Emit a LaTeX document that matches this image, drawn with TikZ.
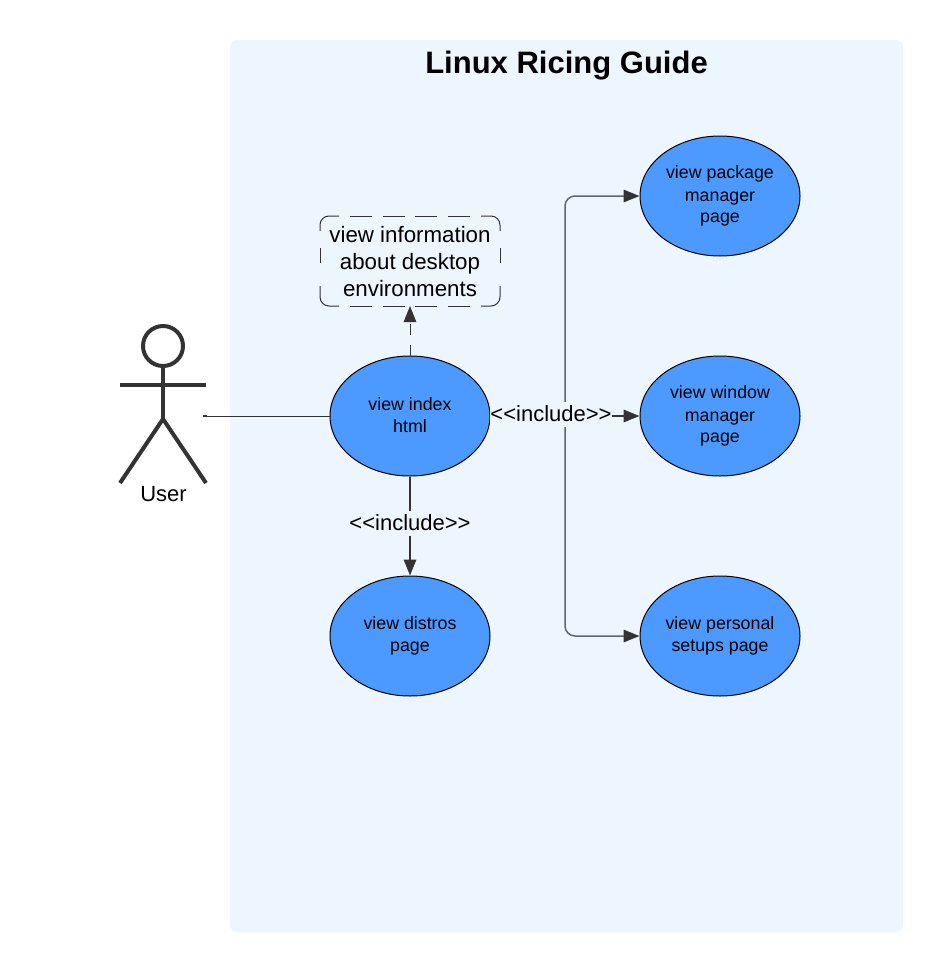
\documentclass[tikz,border=0pt]{standalone}
\usepackage{fontspec}
\setmainfont{Liberation Sans}
\usetikzlibrary{arrows.meta,shapes.geometric}
\definecolor{panelfill}{HTML}{EDF5FF}
\definecolor{usefill}{HTML}{4C9AFF}
\definecolor{inkdark}{HTML}{333333}
\definecolor{inkgrey}{HTML}{5E6670}
\tikzset{
  usecase/.style={ellipse,draw=black,line width=1pt,fill=usefill,minimum width=160pt,minimum height=120pt,inner sep=0pt,align=center,font=\fontsize{17.8}{21.6}\selectfont},
  notebox/.style={rectangle,minimum width=180pt,minimum height=90pt,inner sep=0pt,align=center,font=\fontsize{22.3}{27}\selectfont},
  noteline/.style={draw=inkdark,line width=1pt,rounded corners=9pt},
  conn/.style={draw=inkdark,line width=1.6pt,-{Triangle[length=16pt,width=12.5pt]}},
  trunk/.style={draw=inkgrey,line width=1.5pt,rounded corners=10pt},
  stereo/.style={fill=panelfill,inner sep=0pt,minimum height=25pt,font=\fontsize{22}{24}\selectfont},
  stick/.style={draw=inkdark,line width=4pt},
}
\begin{document}
\begin{tikzpicture}[x=1pt,y=-1pt]
\useasboundingbox (0,0) rectangle (943,972);
\fill[white] (0,0) rectangle (943,972);
\fill[panelfill,rounded corners=7pt] (230,40) rectangle (903,932);
\node[font=\fontsize{31}{36}\selectfont\bfseries] (title) at (566.5,66) {Linux Ricing Guide};
% actor
\draw[stick] (163,346) circle (20);
\draw[stick] (163,366) -- (163,419);
\draw[stick] (120,385) -- (206,385);
\draw[stick] (120,483) -- (163,419) -- (206,483);
\node[font=\fontsize{22}{25}\selectfont] (userlabel) at (163.5,494.5) {User};
\coordinate (actorend) at (203,416);
% use cases
\node[usecase] (index) at (410,416) {\raisebox{1.5pt}{view index}\\\raisebox{1.5pt}{html}};
\node[usecase] (distros) at (410,636) {view distros\\page};
\node[usecase] (package) at (720,196) {\raisebox{1pt}{view package}\\manager\\page};
\node[usecase] (window) at (720,416) {\raisebox{1pt}{view window}\\manager\\page};
\node[usecase] (setups) at (720,636) {view personal\\setups page};
\node[notebox] (note) at (410,262) {view information\\about desktop\\environments};
% dashed outline of the note
\draw[noteline] (339,216) -- (320,216) -- (320,231);
\draw[noteline] (481,216) -- (500,216) -- (500,231);
\draw[noteline] (320,286) -- (320,306) -- (339,306);
\draw[noteline] (500,286) -- (500,306) -- (481,306);
\foreach \xa/\xb in {350/372,383/405,415/437,448/470}{
  \draw[noteline] (\xa,216) -- (\xb,216);
  \draw[noteline] (\xa,306) -- (\xb,306);
}
\draw[noteline] (320,248) -- (320,263);
\draw[noteline] (500,248) -- (500,263);
% connectors
\draw[draw=inkdark,line width=0.9pt] (actorend) -- (index.west);
\draw[draw=inkdark,line width=1.8pt] (actorend) -- ++(4,0);
\draw[draw=inkdark,line width=1pt,dash pattern=on 11pt off 10pt,-{Triangle[length=16pt,width=12.5pt]}] (index.north) -- (410,306);
\draw[trunk] (index.east) -- (565,416) |- ([xshift=-14pt]package.west);
\draw[trunk] (index.east) -- (565,416) |- ([xshift=-14pt]setups.west);
\draw[conn] ([xshift=-14.5pt]package.west) -- (package.west);
\draw[conn] ([xshift=-14.5pt]setups.west) -- (setups.west);
\draw[conn] (index.east) -- (window.west);
\node[stereo] (inc1) at (551,414) {<{}<include>{}>};
\draw[conn] (index.south) -- (distros.north) node[midway,stereo,yshift=3pt] (inc2) {<{}<include>{}>};
\end{tikzpicture}
\end{document}
